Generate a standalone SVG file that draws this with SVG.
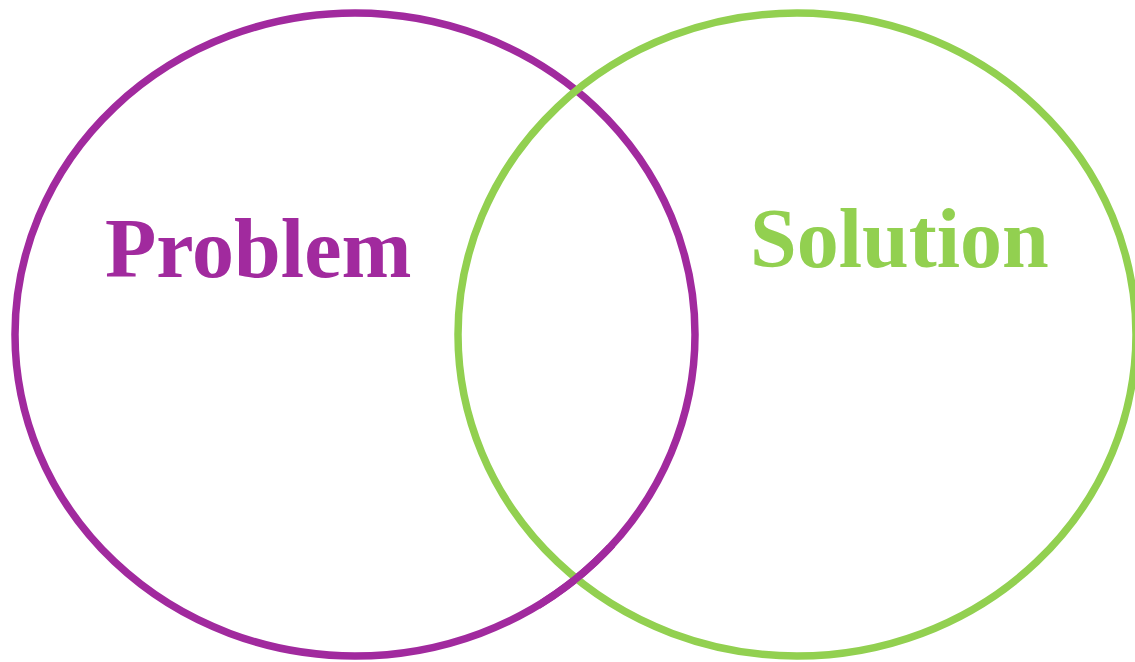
<svg xmlns="http://www.w3.org/2000/svg" width="1135" height="662" viewBox="0 0 1135 662">
<style>
.ring{fill:none;stroke-width:7.5}
.p{stroke:#A12A9E}
.g{stroke:#92D050}
.lbl{font-family:"Liberation Serif","Times New Roman",serif;font-weight:bold;font-size:84px}
</style>
<defs>
<clipPath id="bot"><rect x="540" y="545" width="75" height="75"/></clipPath>
</defs>
<rect width="1135" height="662" fill="#ffffff"/>
<g id="problem-circle">
<ellipse class="ring p" cx="355" cy="334.5" rx="340" ry="321.5"/>
</g>
<g id="solution-circle">
<ellipse class="ring g" cx="797" cy="334.5" rx="339" ry="321.5"/>
</g>
<g id="problem-overlap">
<ellipse class="ring p" cx="355" cy="334.5" rx="340" ry="321.5" clip-path="url(#bot)"/>
</g>
<g id="problem-label">
<text class="lbl" x="105" y="277" fill="#A12A9E">Problem</text>
</g>
<g id="solution-label">
<text class="lbl" x="750" y="267" fill="#92D050">Solution</text>
</g>
<g id="connectors"></g>
</svg>
